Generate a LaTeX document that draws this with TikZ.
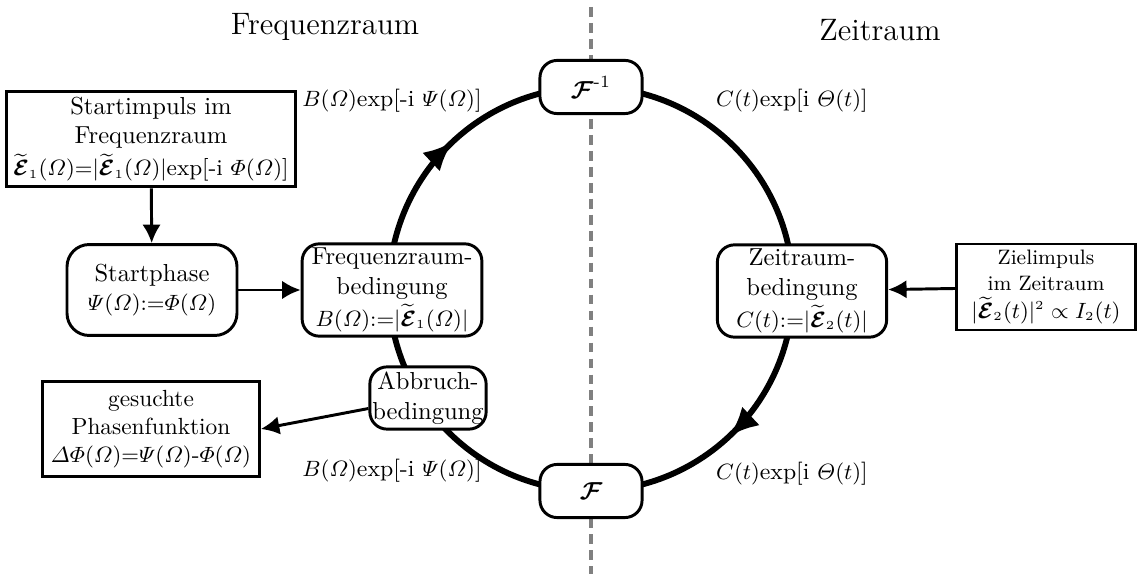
\documentclass[tikz,border=0pt]{standalone}
\usepackage{amsmath,amssymb}
\usepackage{bm}
\usetikzlibrary{positioning, arrows.meta, decorations.markings}

\tikzset{
    rbox/.style={draw, very thick, rounded corners=7pt, fill=white, align=center, inner sep=1pt},
    sbox/.style={draw, very thick, fill=white, align=center, inner sep=1pt},
    lbl/.style={font=\fontsize{9.4}{11}\selectfont},
    flow/.style={line width=2.4pt, postaction={decorate}, decoration={markings,
        mark=at position 0.13 with {\arrow{Latex[length=12pt,width=10.5pt]}},
        mark=at position 0.63 with {\arrow{Latex[length=12pt,width=10.5pt]}}}},
}
\newcommand{\Et}[1]{\widetilde{\bm{\mathcal{E}}}_{\scriptscriptstyle #1}}
\newcommand{\mth}{\fontsize{9.2}{11}\selectfont}

\begin{document}
\begin{tikzpicture}[x=0.0143cm, y=0.0143cm, >={Latex[length=7.5pt,width=7.5pt]}, very thick]
    \useasboundingbox (0,0) rectangle (1141,574);
    \coordinate (ctr) at (591,285);

    % Trennlinie und Kreis
    \draw[gray, line width=1.6pt, dash pattern=on 4pt off 2.5pt] (591,567) -- (591,0);
    \draw[flow] (ctr) ++(0:202) arc[start angle=0, end angle=-360, radius=202];

    % Titel
    \node[font=\fontsize{12.6}{15}\selectfont] (tf) at (325,547) {Frequenzraum};
    \node[font=\fontsize{12.6}{15}\selectfont] (tz) at (880,544) {Zeitraum};

    % Knoten auf dem Kreis
    \node[rbox, minimum width=1.46cm, minimum height=0.76cm] (finv) at (591,487) {$\bm{\mathcal{F}}^{\text{-1}}$};
    \node[rbox, minimum width=1.46cm, minimum height=0.76cm] (fwd) at (591,83) {$\bm{\mathcal{F}}$};
    \node[rbox, minimum width=2.57cm, minimum height=1.32cm] (freqb) at (392,284)
        {Frequenzraum-\\bedingung\\[1pt]{\mth $B(\varOmega){:=}|\Et1(\varOmega)|$}};
    \node[rbox, minimum width=2.42cm, minimum height=1.32cm] (zeitb) at (802,283)
        {Zeitraum-\\bedingung\\[1pt]{\mth $C(t){:=}|\Et2(t)|$}};
    \node[rbox, minimum width=1.64cm, minimum height=0.89cm] (abbr) at (428,176)
        {Abbruch-\\bedingung};

    % Knoten aussen
    \node[sbox, minimum width=4.12cm, minimum height=1.37cm] (startimp) at (151,435)
        {Startimpuls im\\Frequenzraum\\[1pt]{\mth $\Et1(\varOmega){=}|\Et1(\varOmega)|$exp[-i $\varPhi(\varOmega)$]}};
    \node[rbox, rounded corners=9pt, minimum width=2.43cm, minimum height=1.30cm] (startph) at (152,284)
        {Startphase\\{\mth $\varPsi(\varOmega){:=}\varPhi(\varOmega)$}};
    \node[sbox, minimum width=2.55cm, minimum height=1.23cm, font=\fontsize{8.5}{10.5}\selectfont] (ziel) at (1046,287)
        {Zielimpuls\\im Zeitraum\\[1pt]{\mth $|\Et2(t)|^{\scriptscriptstyle 2}\propto I_{\scriptscriptstyle 2}(t)$}};
    \node[sbox, minimum width=3.10cm, minimum height=1.37cm, font=\fontsize{9.5}{11.5}\selectfont] (gesucht) at (151,145)
        {gesuchte\\Phasenfunktion\\{\mth $\varDelta\varPhi(\varOmega){=}\varPsi(\varOmega)$-$\varPhi(\varOmega)$}};

    % Beschriftungen
    \node[lbl] (bt) at (392,473) {$B(\varOmega)$exp[-i $\varPsi(\varOmega)$]};
    \node[lbl] (ct) at (792,473) {$C(t)$exp[i $\varTheta(t)$]};
    \node[lbl] (bb) at (392,103) {$B(\varOmega)$exp[-i $\varPsi(\varOmega)$]};
    \node[lbl] (cb) at (792,100) {$C(t)$exp[i $\varTheta(t)$]};

    % Pfeile
    \draw[->] (startimp) -- (startph);
    \draw[->] (startph) -- (freqb);
    \draw[->] (ziel) -- (zeitb);
    \draw[->] (abbr.190) -- (gesucht.east);
\end{tikzpicture}
\end{document}
